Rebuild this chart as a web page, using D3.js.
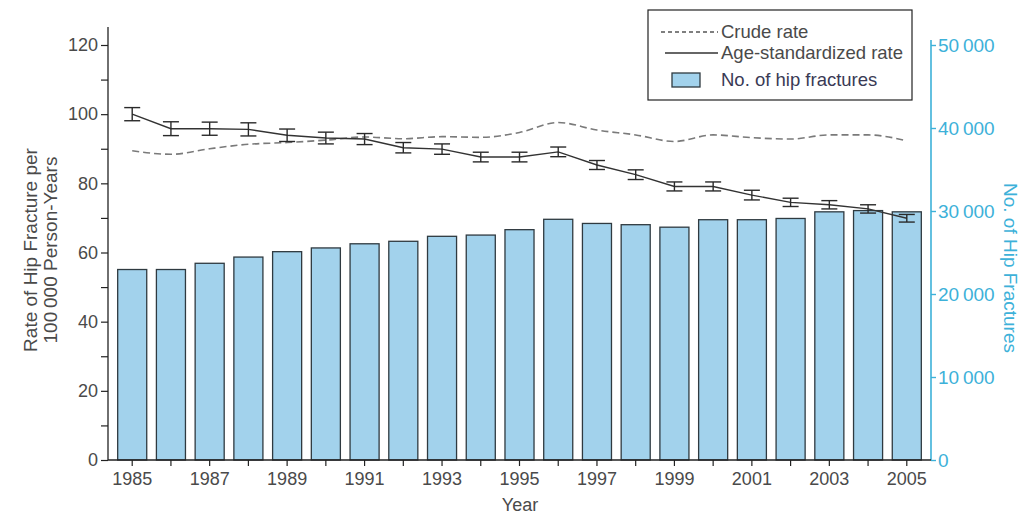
<!DOCTYPE html>
<html>
<head>
<meta charset="utf-8">
<script src="https://cdn.jsdelivr.net/npm/d3@7"></script>
<style>
  body { margin: 0; background: #fff; }
  svg { display: block; font-family: "Liberation Sans", Arial, sans-serif; }
</style>
</head>
<body>
<svg id="chart" width="1025" height="515"></svg>
<script>
// Hip fracture rates and counts, 1985–2005
const years = [1985,1986,1987,1988,1989,1990,1991,1992,1993,1994,1995,1996,1997,1998,1999,2000,2001,2002,2003,2004,2005];
const fractureCounts = [22950,22950,23700,24450,25100,25550,26050,26350,26950,27100,27750,29000,28500,28350,28050,28950,28950,29100,29900,30050,29900];
const ageStdRate = [100.0,95.8,95.8,95.6,93.9,93.1,92.8,90.3,89.9,87.6,87.6,89.1,85.3,82.5,79.1,79.1,76.6,74.5,73.8,72.6,69.9];
const ageStdErr  = [1.9,2.0,1.9,1.9,1.8,1.7,1.6,1.5,1.5,1.4,1.4,1.4,1.3,1.4,1.3,1.3,1.4,1.2,1.2,1.2,1.1];
const crudeRate = [89.4,88.4,90.0,91.3,91.8,92.5,93.4,92.9,93.5,93.3,94.7,97.6,95.4,94.0,92.1,94.0,93.2,92.8,94.0,94.0,92.3];
const leftTicks = [0,20,40,60,80,100,120];
const leftMinorTicks = [10,30,50,70,90,110];
const rightTicks = [0,10000,20000,30000,40000,50000];
const labelledYears = [1985,1987,1989,1991,1993,1995,1997,1999,2001,2003,2005];

(function draw() {
  const svg = d3.select("#chart");
  const plotLeft = 108, plotRight = 931, plotTop = 45, plotBottom = 460;
  const tickColor = "#222", textColor = "#4a4a4a", teal = "#3db1d9";

  const x = d3.scaleBand().domain(years).range([plotLeft, plotRight]).paddingInner(0.25).paddingOuter(0.25);
  const yRate = d3.scaleLinear().domain([0, 120]).range([plotBottom, plotTop]);
  const yCount = d3.scaleLinear().domain([0, 50000]).range([plotBottom, plotTop]);
  const cx = d => x(d) + x.bandwidth() / 2;
  const fmtThin = d => d3.format(",")(d).replace(/,/g, "\u2009");

  // bars
  svg.append("g").selectAll("rect").data(years).join("rect")
    .attr("x", d => x(d))
    .attr("width", x.bandwidth())
    .attr("y", (d, i) => yCount(fractureCounts[i]))
    .attr("height", (d, i) => plotBottom - yCount(fractureCounts[i]))
    .attr("fill", "#a2d2ec")
    .attr("stroke", "#2f3a40")
    .attr("stroke-width", 1.3);

  // crude rate (dashed)
  const crudeLine = d3.line().x((d, i) => cx(years[i])).y(d => yRate(d)).curve(d3.curveMonotoneX);
  svg.append("path").datum(crudeRate)
    .attr("d", crudeLine)
    .attr("fill", "none")
    .attr("stroke", "#7a7a7a")
    .attr("stroke-width", 1.6)
    .attr("stroke-dasharray", "7,4");

  // age-standardized rate (solid with error bars)
  const ageLine = d3.line().x((d, i) => cx(years[i])).y(d => yRate(d));
  svg.append("path").datum(ageStdRate)
    .attr("d", ageLine)
    .attr("fill", "none")
    .attr("stroke", "#333")
    .attr("stroke-width", 1.4);

  const eb = svg.append("g").attr("stroke", "#2a2a2a").attr("stroke-width", 1.4);
  years.forEach((yr, i) => {
    const xc = cx(yr), hi = yRate(ageStdRate[i] + ageStdErr[i]), lo = yRate(ageStdRate[i] - ageStdErr[i]);
    eb.append("line").attr("x1", xc).attr("x2", xc).attr("y1", hi).attr("y2", lo);
    eb.append("line").attr("x1", xc - 8).attr("x2", xc + 8).attr("y1", hi).attr("y2", hi);
    eb.append("line").attr("x1", xc - 8).attr("x2", xc + 8).attr("y1", lo).attr("y2", lo);
  });

  // left axis
  const gl = svg.append("g").attr("transform", `translate(${plotLeft},0)`);
  gl.call(d3.axisLeft(yRate).tickValues(leftTicks).tickSize(7).tickPadding(3));
  gl.append("g").call(d3.axisLeft(yRate).tickValues(leftMinorTicks).tickSize(7).tickFormat(""));
  gl.selectAll(".domain").remove();
  gl.append("line").attr("x1", 0).attr("x2", 0).attr("y1", 27).attr("y2", plotBottom).attr("stroke", tickColor).attr("stroke-width", 1.3);
  gl.selectAll(".tick line").attr("stroke", tickColor).attr("stroke-width", 1.2);
  gl.selectAll("text").attr("fill", textColor).style("font-size", "18px");

  // right axis
  const gr = svg.append("g").attr("transform", `translate(${plotRight},0)`);
  gr.call(d3.axisRight(yCount).tickValues(rightTicks).tickSize(5).tickPadding(2).tickFormat(fmtThin));
  gr.select(".domain").remove();
  gr.append("line").attr("x1", 0).attr("x2", 0).attr("y1", 40).attr("y2", plotBottom).attr("stroke", teal).attr("stroke-width", 1.6);
  gr.selectAll(".tick line").attr("stroke", teal).attr("stroke-width", 1.4);
  gr.selectAll("text").attr("fill", teal).style("font-size", "19px");

  // x axis
  const gx = svg.append("g").attr("transform", `translate(0,${plotBottom})`);
  gx.call(d3.axisBottom(x).tickSize(6).tickPadding(6).tickFormat(d => labelledYears.includes(d) ? d : ""));
  gx.select(".domain").remove();
  gx.append("line").attr("x1", plotLeft).attr("x2", plotRight).attr("y1", 0).attr("y2", 0).attr("stroke", tickColor).attr("stroke-width", 1.3);
  gx.selectAll(".tick line").attr("stroke", tickColor).attr("stroke-width", 1.2);
  gx.selectAll("text").attr("fill", textColor).style("font-size", "18px");

  // axis titles
  svg.append("text")
    .attr("transform", "translate(37,250) rotate(-90)")
    .attr("text-anchor", "middle").attr("fill", textColor).style("font-size", "19px")
    .text("Rate of Hip Fracture per");
  svg.append("text")
    .attr("transform", "translate(57,250) rotate(-90)")
    .attr("text-anchor", "middle").attr("fill", textColor).style("font-size", "19px")
    .text("100\u2009000 Person-Years");
  svg.append("text")
    .attr("transform", "translate(1004,268) rotate(90)")
    .attr("text-anchor", "middle").attr("fill", teal).style("font-size", "19px")
    .text("No. of Hip Fractures");
  svg.append("text")
    .attr("x", 520).attr("y", 511)
    .attr("text-anchor", "middle").attr("fill", textColor).style("font-size", "18px")
    .text("Year");

  // legend
  const lg = svg.append("g");
  lg.append("rect").attr("x", 648).attr("y", 10).attr("width", 264).attr("height", 90)
    .attr("fill", "#fff").attr("stroke", "#222").attr("stroke-width", 1.2);
  lg.append("line").attr("x1", 661).attr("x2", 718).attr("y1", 32).attr("y2", 32)
    .attr("stroke", "#555").attr("stroke-width", 1.3).attr("stroke-dasharray", "4,3");
  lg.append("line").attr("x1", 665).attr("x2", 718).attr("y1", 53).attr("y2", 53)
    .attr("stroke", "#333").attr("stroke-width", 1.3);
  lg.append("rect").attr("x", 672).attr("y", 73).attr("width", 28).attr("height", 14)
    .attr("fill", "#a2d2ec").attr("stroke", "#2f3a40").attr("stroke-width", 1.3);
  const legendLabels = ["Crude rate", "Age-standardized rate", "No. of hip fractures"];
  [32, 53, 80].forEach((yy, i) => {
    lg.append("text").attr("x", 721).attr("y", yy).attr("dy", "0.35em")
      .attr("fill", i === 2 ? "#3a3a55" : textColor).style("font-size", "18.5px")
      .text(legendLabels[i]);
  });
})();
</script>
</body>
</html>
